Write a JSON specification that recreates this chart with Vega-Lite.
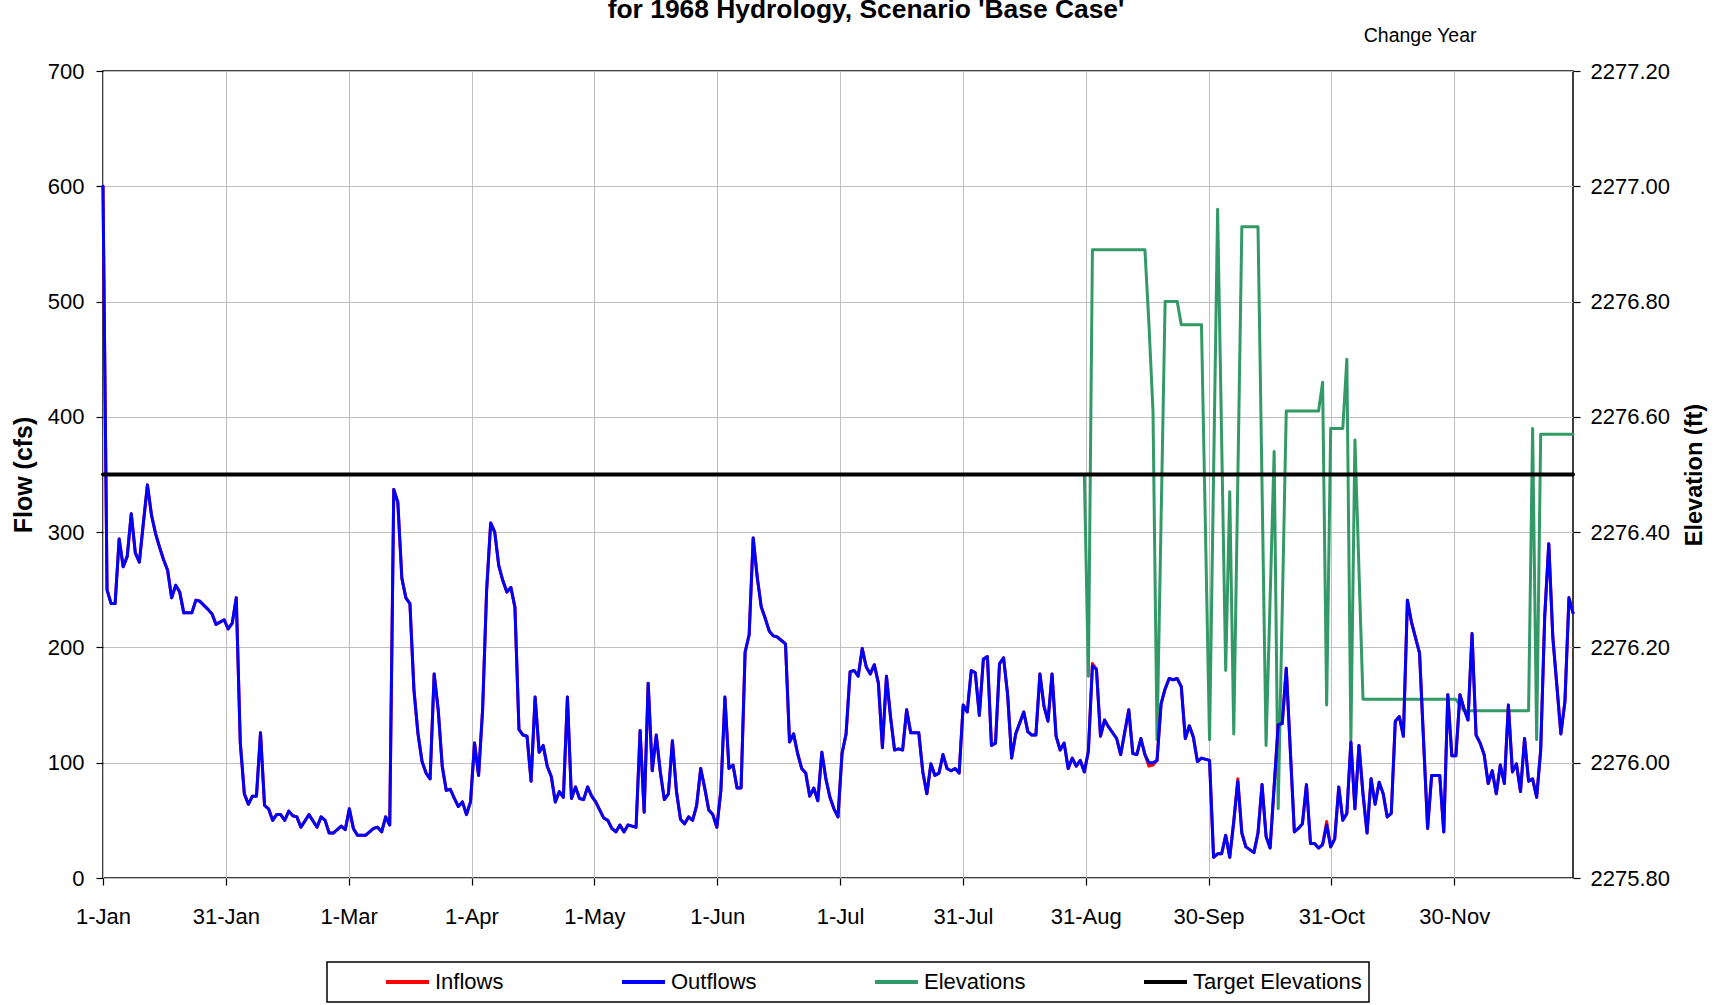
{
  "$schema": "https://vega.github.io/schema/vega-lite/v6.json",
  "width": 1470,
  "height": 807,
  "autosize": {"type": "none"},
  "padding": {"left": 103, "top": 71, "right": 141, "bottom": 127},
  "background": "#ffffff",
  "title": {
    "text": "for 1968 Hydrology, Scenario 'Base Case'",
    "font": "Liberation Sans",
    "fontSize": 26.4,
    "fontWeight": "bold",
    "color": "#000000",
    "anchor": "middle",
    "baseline": "alphabetic",
    "offset": -19,
    "dx": 28
  },
  "config": {
    "font": "Liberation Sans",
    "view": {"stroke": "#000000", "strokeWidth": 1.5},
    "axis": {
      "labelFont": "Liberation Sans",
      "labelFontSize": 22,
      "labelColor": "#000000",
      "titleFont": "Liberation Sans",
      "titleColor": "#000000",
      "tickColor": "#000000",
      "tickWidth": 1.2,
      "domain": false,
      "gridColor": "#c0c0c0",
      "gridWidth": 1,
      "gridOpacity": 1
    },
    "legend": {"strokeWidth": 1.5},
    "line": {"strokeJoin": "round", "strokeCap": "round"}
  },
  "datasets": {
    "flows": [
      {"date":"1968-01-01","Inflows":600,"Outflows":600},
      {"date":"1968-01-02","Inflows":250,"Outflows":250},
      {"date":"1968-01-03","Inflows":238,"Outflows":238},
      {"date":"1968-01-04","Inflows":238,"Outflows":238},
      {"date":"1968-01-05","Inflows":294,"Outflows":294},
      {"date":"1968-01-06","Inflows":270,"Outflows":270},
      {"date":"1968-01-07","Inflows":279,"Outflows":279},
      {"date":"1968-01-08","Inflows":316,"Outflows":316},
      {"date":"1968-01-09","Inflows":282,"Outflows":282},
      {"date":"1968-01-10","Inflows":274,"Outflows":274},
      {"date":"1968-01-11","Inflows":308,"Outflows":308},
      {"date":"1968-01-12","Inflows":341,"Outflows":341},
      {"date":"1968-01-13","Inflows":315,"Outflows":315},
      {"date":"1968-01-14","Inflows":299,"Outflows":299},
      {"date":"1968-01-15","Inflows":287,"Outflows":287},
      {"date":"1968-01-16","Inflows":276,"Outflows":276},
      {"date":"1968-01-17","Inflows":267,"Outflows":267},
      {"date":"1968-01-18","Inflows":243,"Outflows":243},
      {"date":"1968-01-19","Inflows":254,"Outflows":254},
      {"date":"1968-01-20","Inflows":248,"Outflows":248},
      {"date":"1968-01-21","Inflows":230,"Outflows":230},
      {"date":"1968-01-22","Inflows":230,"Outflows":230},
      {"date":"1968-01-23","Inflows":230,"Outflows":230},
      {"date":"1968-01-24","Inflows":241,"Outflows":241},
      {"date":"1968-01-25","Inflows":240,"Outflows":240},
      {"date":"1968-01-27","Inflows":233,"Outflows":233},
      {"date":"1968-01-28","Inflows":229,"Outflows":229},
      {"date":"1968-01-29","Inflows":220,"Outflows":220},
      {"date":"1968-01-31","Inflows":224,"Outflows":224},
      {"date":"1968-02-01","Inflows":216,"Outflows":216},
      {"date":"1968-02-02","Inflows":221,"Outflows":221},
      {"date":"1968-02-03","Inflows":243,"Outflows":243},
      {"date":"1968-02-04","Inflows":117,"Outflows":117},
      {"date":"1968-02-05","Inflows":73,"Outflows":73},
      {"date":"1968-02-06","Inflows":64,"Outflows":64},
      {"date":"1968-02-07","Inflows":71,"Outflows":71},
      {"date":"1968-02-08","Inflows":71,"Outflows":71},
      {"date":"1968-02-09","Inflows":126,"Outflows":126},
      {"date":"1968-02-10","Inflows":63,"Outflows":63},
      {"date":"1968-02-11","Inflows":60,"Outflows":60},
      {"date":"1968-02-12","Inflows":50,"Outflows":50},
      {"date":"1968-02-13","Inflows":55,"Outflows":55},
      {"date":"1968-02-14","Inflows":55,"Outflows":55},
      {"date":"1968-02-15","Inflows":50,"Outflows":50},
      {"date":"1968-02-16","Inflows":58,"Outflows":58},
      {"date":"1968-02-17","Inflows":54,"Outflows":54},
      {"date":"1968-02-18","Inflows":53,"Outflows":53},
      {"date":"1968-02-19","Inflows":44,"Outflows":44},
      {"date":"1968-02-21","Inflows":55,"Outflows":55},
      {"date":"1968-02-23","Inflows":44,"Outflows":44},
      {"date":"1968-02-24","Inflows":53,"Outflows":53},
      {"date":"1968-02-25","Inflows":50,"Outflows":50},
      {"date":"1968-02-26","Inflows":39,"Outflows":39},
      {"date":"1968-02-27","Inflows":39,"Outflows":39},
      {"date":"1968-02-29","Inflows":45,"Outflows":45},
      {"date":"1968-03-01","Inflows":42,"Outflows":42},
      {"date":"1968-03-02","Inflows":60,"Outflows":60},
      {"date":"1968-03-03","Inflows":43,"Outflows":43},
      {"date":"1968-03-04","Inflows":37,"Outflows":37},
      {"date":"1968-03-05","Inflows":37,"Outflows":37},
      {"date":"1968-03-06","Inflows":37,"Outflows":37},
      {"date":"1968-03-08","Inflows":43,"Outflows":43},
      {"date":"1968-03-09","Inflows":44,"Outflows":44},
      {"date":"1968-03-10","Inflows":40,"Outflows":40},
      {"date":"1968-03-11","Inflows":53,"Outflows":53},
      {"date":"1968-03-12","Inflows":46,"Outflows":46},
      {"date":"1968-03-13","Inflows":337,"Outflows":337},
      {"date":"1968-03-14","Inflows":326,"Outflows":326},
      {"date":"1968-03-15","Inflows":260,"Outflows":260},
      {"date":"1968-03-16","Inflows":243,"Outflows":243},
      {"date":"1968-03-17","Inflows":238,"Outflows":238},
      {"date":"1968-03-18","Inflows":163,"Outflows":163},
      {"date":"1968-03-19","Inflows":125,"Outflows":125},
      {"date":"1968-03-20","Inflows":101,"Outflows":101},
      {"date":"1968-03-21","Inflows":91,"Outflows":91},
      {"date":"1968-03-22","Inflows":86,"Outflows":86},
      {"date":"1968-03-23","Inflows":177,"Outflows":177},
      {"date":"1968-03-24","Inflows":146,"Outflows":146},
      {"date":"1968-03-25","Inflows":97,"Outflows":97},
      {"date":"1968-03-26","Inflows":76,"Outflows":76},
      {"date":"1968-03-27","Inflows":77,"Outflows":77},
      {"date":"1968-03-28","Inflows":69,"Outflows":69},
      {"date":"1968-03-29","Inflows":62,"Outflows":62},
      {"date":"1968-03-30","Inflows":66,"Outflows":66},
      {"date":"1968-03-31","Inflows":55,"Outflows":55},
      {"date":"1968-04-01","Inflows":66,"Outflows":66},
      {"date":"1968-04-02","Inflows":117,"Outflows":117},
      {"date":"1968-04-03","Inflows":89,"Outflows":89},
      {"date":"1968-04-04","Inflows":146,"Outflows":146},
      {"date":"1968-04-05","Inflows":250,"Outflows":250},
      {"date":"1968-04-06","Inflows":308,"Outflows":308},
      {"date":"1968-04-07","Inflows":300,"Outflows":300},
      {"date":"1968-04-08","Inflows":271,"Outflows":271},
      {"date":"1968-04-09","Inflows":258,"Outflows":258},
      {"date":"1968-04-10","Inflows":248,"Outflows":248},
      {"date":"1968-04-11","Inflows":252,"Outflows":252},
      {"date":"1968-04-12","Inflows":235,"Outflows":235},
      {"date":"1968-04-13","Inflows":129,"Outflows":129},
      {"date":"1968-04-14","Inflows":124,"Outflows":124},
      {"date":"1968-04-15","Inflows":123,"Outflows":123},
      {"date":"1968-04-16","Inflows":84,"Outflows":84},
      {"date":"1968-04-17","Inflows":157,"Outflows":157},
      {"date":"1968-04-18","Inflows":109,"Outflows":109},
      {"date":"1968-04-19","Inflows":115,"Outflows":115},
      {"date":"1968-04-20","Inflows":97,"Outflows":97},
      {"date":"1968-04-21","Inflows":88,"Outflows":88},
      {"date":"1968-04-22","Inflows":66,"Outflows":66},
      {"date":"1968-04-23","Inflows":75,"Outflows":75},
      {"date":"1968-04-24","Inflows":70,"Outflows":70},
      {"date":"1968-04-25","Inflows":157,"Outflows":157},
      {"date":"1968-04-26","Inflows":69,"Outflows":69},
      {"date":"1968-04-27","Inflows":79,"Outflows":79},
      {"date":"1968-04-28","Inflows":69,"Outflows":69},
      {"date":"1968-04-29","Inflows":68,"Outflows":68},
      {"date":"1968-04-30","Inflows":79,"Outflows":79},
      {"date":"1968-05-01","Inflows":71,"Outflows":71},
      {"date":"1968-05-02","Inflows":66,"Outflows":66},
      {"date":"1968-05-04","Inflows":52,"Outflows":52},
      {"date":"1968-05-05","Inflows":50,"Outflows":50},
      {"date":"1968-05-06","Inflows":43,"Outflows":43},
      {"date":"1968-05-07","Inflows":40,"Outflows":40},
      {"date":"1968-05-08","Inflows":46,"Outflows":46},
      {"date":"1968-05-09","Inflows":40,"Outflows":40},
      {"date":"1968-05-10","Inflows":46,"Outflows":46},
      {"date":"1968-05-11","Inflows":45,"Outflows":45},
      {"date":"1968-05-12","Inflows":44,"Outflows":44},
      {"date":"1968-05-13","Inflows":128,"Outflows":128},
      {"date":"1968-05-14","Inflows":57,"Outflows":57},
      {"date":"1968-05-15","Inflows":169,"Outflows":169},
      {"date":"1968-05-16","Inflows":93,"Outflows":93},
      {"date":"1968-05-17","Inflows":124,"Outflows":124},
      {"date":"1968-05-18","Inflows":92,"Outflows":92},
      {"date":"1968-05-19","Inflows":68,"Outflows":68},
      {"date":"1968-05-20","Inflows":73,"Outflows":73},
      {"date":"1968-05-21","Inflows":119,"Outflows":119},
      {"date":"1968-05-22","Inflows":75,"Outflows":75},
      {"date":"1968-05-23","Inflows":51,"Outflows":51},
      {"date":"1968-05-24","Inflows":47,"Outflows":47},
      {"date":"1968-05-25","Inflows":53,"Outflows":53},
      {"date":"1968-05-26","Inflows":50,"Outflows":50},
      {"date":"1968-05-27","Inflows":63,"Outflows":63},
      {"date":"1968-05-28","Inflows":95,"Outflows":95},
      {"date":"1968-05-29","Inflows":78,"Outflows":78},
      {"date":"1968-05-30","Inflows":59,"Outflows":59},
      {"date":"1968-05-31","Inflows":55,"Outflows":55},
      {"date":"1968-06-01","Inflows":44,"Outflows":44},
      {"date":"1968-06-02","Inflows":76,"Outflows":76},
      {"date":"1968-06-03","Inflows":157,"Outflows":157},
      {"date":"1968-06-04","Inflows":95,"Outflows":95},
      {"date":"1968-06-05","Inflows":98,"Outflows":98},
      {"date":"1968-06-06","Inflows":78,"Outflows":78},
      {"date":"1968-06-07","Inflows":78,"Outflows":78},
      {"date":"1968-06-08","Inflows":196,"Outflows":196},
      {"date":"1968-06-09","Inflows":211,"Outflows":211},
      {"date":"1968-06-10","Inflows":295,"Outflows":295},
      {"date":"1968-06-11","Inflows":261,"Outflows":261},
      {"date":"1968-06-12","Inflows":235,"Outflows":235},
      {"date":"1968-06-13","Inflows":225,"Outflows":225},
      {"date":"1968-06-14","Inflows":214,"Outflows":214},
      {"date":"1968-06-15","Inflows":210,"Outflows":210},
      {"date":"1968-06-16","Inflows":209,"Outflows":209},
      {"date":"1968-06-17","Inflows":206,"Outflows":206},
      {"date":"1968-06-18","Inflows":203,"Outflows":203},
      {"date":"1968-06-19","Inflows":118,"Outflows":118},
      {"date":"1968-06-20","Inflows":125,"Outflows":125},
      {"date":"1968-06-21","Inflows":108,"Outflows":108},
      {"date":"1968-06-22","Inflows":95,"Outflows":95},
      {"date":"1968-06-23","Inflows":91,"Outflows":91},
      {"date":"1968-06-24","Inflows":71,"Outflows":71},
      {"date":"1968-06-25","Inflows":78,"Outflows":78},
      {"date":"1968-06-26","Inflows":67,"Outflows":67},
      {"date":"1968-06-27","Inflows":109,"Outflows":109},
      {"date":"1968-06-28","Inflows":86,"Outflows":86},
      {"date":"1968-06-29","Inflows":70,"Outflows":70},
      {"date":"1968-06-30","Inflows":60,"Outflows":60},
      {"date":"1968-07-01","Inflows":53,"Outflows":53},
      {"date":"1968-07-02","Inflows":108,"Outflows":108},
      {"date":"1968-07-03","Inflows":125,"Outflows":125},
      {"date":"1968-07-04","Inflows":179,"Outflows":179},
      {"date":"1968-07-05","Inflows":180,"Outflows":180},
      {"date":"1968-07-06","Inflows":175,"Outflows":175},
      {"date":"1968-07-07","Inflows":199,"Outflows":199},
      {"date":"1968-07-08","Inflows":183,"Outflows":183},
      {"date":"1968-07-09","Inflows":177,"Outflows":177},
      {"date":"1968-07-10","Inflows":185,"Outflows":185},
      {"date":"1968-07-11","Inflows":169,"Outflows":169},
      {"date":"1968-07-12","Inflows":113,"Outflows":113},
      {"date":"1968-07-13","Inflows":175,"Outflows":175},
      {"date":"1968-07-14","Inflows":140,"Outflows":140},
      {"date":"1968-07-15","Inflows":111,"Outflows":111},
      {"date":"1968-07-16","Inflows":112,"Outflows":112},
      {"date":"1968-07-17","Inflows":111,"Outflows":111},
      {"date":"1968-07-18","Inflows":146,"Outflows":146},
      {"date":"1968-07-19","Inflows":126,"Outflows":126},
      {"date":"1968-07-20","Inflows":126,"Outflows":126},
      {"date":"1968-07-21","Inflows":126,"Outflows":126},
      {"date":"1968-07-22","Inflows":92,"Outflows":92},
      {"date":"1968-07-23","Inflows":73,"Outflows":73},
      {"date":"1968-07-24","Inflows":99,"Outflows":99},
      {"date":"1968-07-25","Inflows":89,"Outflows":89},
      {"date":"1968-07-26","Inflows":91,"Outflows":91},
      {"date":"1968-07-27","Inflows":107,"Outflows":107},
      {"date":"1968-07-28","Inflows":95,"Outflows":95},
      {"date":"1968-07-29","Inflows":93,"Outflows":93},
      {"date":"1968-07-30","Inflows":95,"Outflows":95},
      {"date":"1968-07-31","Inflows":91,"Outflows":91},
      {"date":"1968-08-01","Inflows":150,"Outflows":150},
      {"date":"1968-08-02","Inflows":144,"Outflows":144},
      {"date":"1968-08-03","Inflows":180,"Outflows":180},
      {"date":"1968-08-04","Inflows":178,"Outflows":178},
      {"date":"1968-08-05","Inflows":141,"Outflows":141},
      {"date":"1968-08-06","Inflows":190,"Outflows":190},
      {"date":"1968-08-07","Inflows":192,"Outflows":192},
      {"date":"1968-08-08","Inflows":115,"Outflows":115},
      {"date":"1968-08-09","Inflows":117,"Outflows":117},
      {"date":"1968-08-10","Inflows":186,"Outflows":186},
      {"date":"1968-08-11","Inflows":191,"Outflows":191},
      {"date":"1968-08-12","Inflows":159,"Outflows":159},
      {"date":"1968-08-13","Inflows":104,"Outflows":104},
      {"date":"1968-08-14","Inflows":125,"Outflows":125},
      {"date":"1968-08-16","Inflows":144,"Outflows":144},
      {"date":"1968-08-17","Inflows":127,"Outflows":127},
      {"date":"1968-08-18","Inflows":124,"Outflows":124},
      {"date":"1968-08-19","Inflows":124,"Outflows":124},
      {"date":"1968-08-20","Inflows":177,"Outflows":177},
      {"date":"1968-08-21","Inflows":149,"Outflows":149},
      {"date":"1968-08-22","Inflows":136,"Outflows":136},
      {"date":"1968-08-23","Inflows":177,"Outflows":177},
      {"date":"1968-08-24","Inflows":123,"Outflows":123},
      {"date":"1968-08-25","Inflows":111,"Outflows":111},
      {"date":"1968-08-26","Inflows":117,"Outflows":117},
      {"date":"1968-08-27","Inflows":95,"Outflows":95},
      {"date":"1968-08-28","Inflows":104,"Outflows":104},
      {"date":"1968-08-29","Inflows":97,"Outflows":97},
      {"date":"1968-08-30","Inflows":102,"Outflows":102},
      {"date":"1968-08-31","Inflows":92,"Outflows":92},
      {"date":"1968-09-01","Inflows":110,"Outflows":110},
      {"date":"1968-09-02","Inflows":186,"Outflows":184},
      {"date":"1968-09-03","Inflows":181,"Outflows":181},
      {"date":"1968-09-04","Inflows":123,"Outflows":123},
      {"date":"1968-09-05","Inflows":137,"Outflows":137},
      {"date":"1968-09-06","Inflows":131,"Outflows":131},
      {"date":"1968-09-08","Inflows":121,"Outflows":121},
      {"date":"1968-09-09","Inflows":107,"Outflows":107},
      {"date":"1968-09-11","Inflows":146,"Outflows":146},
      {"date":"1968-09-12","Inflows":108,"Outflows":108},
      {"date":"1968-09-13","Inflows":107,"Outflows":107},
      {"date":"1968-09-14","Inflows":121,"Outflows":121},
      {"date":"1968-09-15","Inflows":107,"Outflows":107},
      {"date":"1968-09-16","Inflows":97,"Outflows":100},
      {"date":"1968-09-17","Inflows":98,"Outflows":100},
      {"date":"1968-09-18","Inflows":102,"Outflows":102},
      {"date":"1968-09-19","Inflows":151,"Outflows":151},
      {"date":"1968-09-20","Inflows":164,"Outflows":164},
      {"date":"1968-09-21","Inflows":173,"Outflows":173},
      {"date":"1968-09-22","Inflows":172,"Outflows":172},
      {"date":"1968-09-23","Inflows":173,"Outflows":173},
      {"date":"1968-09-24","Inflows":166,"Outflows":166},
      {"date":"1968-09-25","Inflows":121,"Outflows":121},
      {"date":"1968-09-26","Inflows":132,"Outflows":132},
      {"date":"1968-09-27","Inflows":122,"Outflows":122},
      {"date":"1968-09-28","Inflows":101,"Outflows":101},
      {"date":"1968-09-29","Inflows":104,"Outflows":104},
      {"date":"1968-10-01","Inflows":102,"Outflows":102},
      {"date":"1968-10-02","Inflows":18,"Outflows":18},
      {"date":"1968-10-03","Inflows":21,"Outflows":21},
      {"date":"1968-10-04","Inflows":21,"Outflows":21},
      {"date":"1968-10-05","Inflows":37,"Outflows":37},
      {"date":"1968-10-06","Inflows":18,"Outflows":18},
      {"date":"1968-10-07","Inflows":49,"Outflows":49},
      {"date":"1968-10-08","Inflows":86,"Outflows":84},
      {"date":"1968-10-09","Inflows":39,"Outflows":39},
      {"date":"1968-10-10","Inflows":27,"Outflows":27},
      {"date":"1968-10-12","Inflows":22,"Outflows":22},
      {"date":"1968-10-13","Inflows":39,"Outflows":39},
      {"date":"1968-10-14","Inflows":81,"Outflows":81},
      {"date":"1968-10-15","Inflows":36,"Outflows":36},
      {"date":"1968-10-16","Inflows":26,"Outflows":26},
      {"date":"1968-10-18","Inflows":133,"Outflows":133},
      {"date":"1968-10-19","Inflows":134,"Outflows":134},
      {"date":"1968-10-20","Inflows":182,"Outflows":182},
      {"date":"1968-10-22","Inflows":40,"Outflows":40},
      {"date":"1968-10-23","Inflows":43,"Outflows":43},
      {"date":"1968-10-24","Inflows":47,"Outflows":47},
      {"date":"1968-10-25","Inflows":81,"Outflows":81},
      {"date":"1968-10-26","Inflows":30,"Outflows":30},
      {"date":"1968-10-27","Inflows":30,"Outflows":30},
      {"date":"1968-10-28","Inflows":26,"Outflows":26},
      {"date":"1968-10-29","Inflows":29,"Outflows":29},
      {"date":"1968-10-30","Inflows":49,"Outflows":46},
      {"date":"1968-10-31","Inflows":27,"Outflows":27},
      {"date":"1968-11-01","Inflows":34,"Outflows":34},
      {"date":"1968-11-02","Inflows":79,"Outflows":79},
      {"date":"1968-11-03","Inflows":50,"Outflows":50},
      {"date":"1968-11-04","Inflows":56,"Outflows":56},
      {"date":"1968-11-05","Inflows":118,"Outflows":118},
      {"date":"1968-11-06","Inflows":60,"Outflows":60},
      {"date":"1968-11-07","Inflows":115,"Outflows":115},
      {"date":"1968-11-08","Inflows":73,"Outflows":73},
      {"date":"1968-11-09","Inflows":39,"Outflows":39},
      {"date":"1968-11-10","Inflows":86,"Outflows":86},
      {"date":"1968-11-11","Inflows":64,"Outflows":64},
      {"date":"1968-11-12","Inflows":83,"Outflows":83},
      {"date":"1968-11-13","Inflows":73,"Outflows":73},
      {"date":"1968-11-14","Inflows":53,"Outflows":53},
      {"date":"1968-11-15","Inflows":56,"Outflows":56},
      {"date":"1968-11-16","Inflows":136,"Outflows":136},
      {"date":"1968-11-17","Inflows":140,"Outflows":140},
      {"date":"1968-11-18","Inflows":123,"Outflows":123},
      {"date":"1968-11-19","Inflows":241,"Outflows":241},
      {"date":"1968-11-20","Inflows":222,"Outflows":222},
      {"date":"1968-11-22","Inflows":195,"Outflows":195},
      {"date":"1968-11-24","Inflows":43,"Outflows":43},
      {"date":"1968-11-25","Inflows":89,"Outflows":89},
      {"date":"1968-11-26","Inflows":89,"Outflows":89},
      {"date":"1968-11-27","Inflows":89,"Outflows":89},
      {"date":"1968-11-28","Inflows":40,"Outflows":40},
      {"date":"1968-11-29","Inflows":159,"Outflows":159},
      {"date":"1968-11-30","Inflows":106,"Outflows":106},
      {"date":"1968-12-01","Inflows":106,"Outflows":106},
      {"date":"1968-12-02","Inflows":159,"Outflows":159},
      {"date":"1968-12-03","Inflows":147,"Outflows":147},
      {"date":"1968-12-04","Inflows":137,"Outflows":137},
      {"date":"1968-12-05","Inflows":212,"Outflows":212},
      {"date":"1968-12-06","Inflows":124,"Outflows":124},
      {"date":"1968-12-07","Inflows":117,"Outflows":117},
      {"date":"1968-12-08","Inflows":107,"Outflows":107},
      {"date":"1968-12-09","Inflows":82,"Outflows":82},
      {"date":"1968-12-10","Inflows":93,"Outflows":93},
      {"date":"1968-12-11","Inflows":73,"Outflows":73},
      {"date":"1968-12-12","Inflows":98,"Outflows":98},
      {"date":"1968-12-13","Inflows":82,"Outflows":82},
      {"date":"1968-12-14","Inflows":150,"Outflows":150},
      {"date":"1968-12-15","Inflows":92,"Outflows":92},
      {"date":"1968-12-16","Inflows":99,"Outflows":99},
      {"date":"1968-12-17","Inflows":75,"Outflows":75},
      {"date":"1968-12-18","Inflows":121,"Outflows":121},
      {"date":"1968-12-19","Inflows":84,"Outflows":84},
      {"date":"1968-12-20","Inflows":86,"Outflows":86},
      {"date":"1968-12-21","Inflows":70,"Outflows":70},
      {"date":"1968-12-22","Inflows":111,"Outflows":111},
      {"date":"1968-12-23","Inflows":227,"Outflows":227},
      {"date":"1968-12-24","Inflows":290,"Outflows":290},
      {"date":"1968-12-25","Inflows":209,"Outflows":209},
      {"date":"1968-12-27","Inflows":125,"Outflows":125},
      {"date":"1968-12-28","Inflows":153,"Outflows":153},
      {"date":"1968-12-29","Inflows":243,"Outflows":243},
      {"date":"1968-12-30","Inflows":230,"Outflows":230}
    ],
    "elev": [
      {"date":"1968-08-31","elevation":2276.50},
      {"date":"1968-09-01","elevation":2276.15},
      {"date":"1968-09-02","elevation":2276.89},
      {"date":"1968-09-03","elevation":2276.89},
      {"date":"1968-09-04","elevation":2276.89},
      {"date":"1968-09-05","elevation":2276.89},
      {"date":"1968-09-06","elevation":2276.89},
      {"date":"1968-09-07","elevation":2276.89},
      {"date":"1968-09-08","elevation":2276.89},
      {"date":"1968-09-09","elevation":2276.89},
      {"date":"1968-09-10","elevation":2276.89},
      {"date":"1968-09-11","elevation":2276.89},
      {"date":"1968-09-12","elevation":2276.89},
      {"date":"1968-09-13","elevation":2276.89},
      {"date":"1968-09-14","elevation":2276.89},
      {"date":"1968-09-15","elevation":2276.89},
      {"date":"1968-09-16","elevation":2276.76},
      {"date":"1968-09-17","elevation":2276.61},
      {"date":"1968-09-18","elevation":2276.04},
      {"date":"1968-09-20","elevation":2276.80},
      {"date":"1968-09-21","elevation":2276.80},
      {"date":"1968-09-22","elevation":2276.80},
      {"date":"1968-09-23","elevation":2276.80},
      {"date":"1968-09-24","elevation":2276.76},
      {"date":"1968-09-25","elevation":2276.76},
      {"date":"1968-09-26","elevation":2276.76},
      {"date":"1968-09-27","elevation":2276.76},
      {"date":"1968-09-28","elevation":2276.76},
      {"date":"1968-09-29","elevation":2276.76},
      {"date":"1968-10-01","elevation":2276.04},
      {"date":"1968-10-03","elevation":2276.96},
      {"date":"1968-10-05","elevation":2276.16},
      {"date":"1968-10-06","elevation":2276.47},
      {"date":"1968-10-07","elevation":2276.05},
      {"date":"1968-10-09","elevation":2276.93},
      {"date":"1968-10-10","elevation":2276.93},
      {"date":"1968-10-11","elevation":2276.93},
      {"date":"1968-10-12","elevation":2276.93},
      {"date":"1968-10-13","elevation":2276.93},
      {"date":"1968-10-15","elevation":2276.03},
      {"date":"1968-10-17","elevation":2276.54},
      {"date":"1968-10-18","elevation":2275.92},
      {"date":"1968-10-20","elevation":2276.61},
      {"date":"1968-10-21","elevation":2276.61},
      {"date":"1968-10-22","elevation":2276.61},
      {"date":"1968-10-23","elevation":2276.61},
      {"date":"1968-10-24","elevation":2276.61},
      {"date":"1968-10-25","elevation":2276.61},
      {"date":"1968-10-26","elevation":2276.61},
      {"date":"1968-10-27","elevation":2276.61},
      {"date":"1968-10-28","elevation":2276.61},
      {"date":"1968-10-29","elevation":2276.66},
      {"date":"1968-10-30","elevation":2276.10},
      {"date":"1968-10-31","elevation":2276.58},
      {"date":"1968-11-01","elevation":2276.58},
      {"date":"1968-11-02","elevation":2276.58},
      {"date":"1968-11-03","elevation":2276.58},
      {"date":"1968-11-04","elevation":2276.70},
      {"date":"1968-11-05","elevation":2276.04},
      {"date":"1968-11-06","elevation":2276.56},
      {"date":"1968-11-08","elevation":2276.11},
      {"date":"1968-11-09","elevation":2276.11},
      {"date":"1968-11-10","elevation":2276.11},
      {"date":"1968-11-11","elevation":2276.11},
      {"date":"1968-11-12","elevation":2276.11},
      {"date":"1968-11-13","elevation":2276.11},
      {"date":"1968-11-14","elevation":2276.11},
      {"date":"1968-11-15","elevation":2276.11},
      {"date":"1968-11-16","elevation":2276.11},
      {"date":"1968-11-17","elevation":2276.11},
      {"date":"1968-11-18","elevation":2276.11},
      {"date":"1968-11-19","elevation":2276.11},
      {"date":"1968-11-20","elevation":2276.11},
      {"date":"1968-11-21","elevation":2276.11},
      {"date":"1968-11-22","elevation":2276.11},
      {"date":"1968-11-23","elevation":2276.11},
      {"date":"1968-11-24","elevation":2276.11},
      {"date":"1968-11-25","elevation":2276.11},
      {"date":"1968-11-26","elevation":2276.11},
      {"date":"1968-11-27","elevation":2276.11},
      {"date":"1968-11-28","elevation":2276.11},
      {"date":"1968-11-29","elevation":2276.11},
      {"date":"1968-11-30","elevation":2276.11},
      {"date":"1968-12-01","elevation":2276.11},
      {"date":"1968-12-03","elevation":2276.09},
      {"date":"1968-12-04","elevation":2276.09},
      {"date":"1968-12-05","elevation":2276.09},
      {"date":"1968-12-06","elevation":2276.09},
      {"date":"1968-12-07","elevation":2276.09},
      {"date":"1968-12-08","elevation":2276.09},
      {"date":"1968-12-09","elevation":2276.09},
      {"date":"1968-12-10","elevation":2276.09},
      {"date":"1968-12-11","elevation":2276.09},
      {"date":"1968-12-12","elevation":2276.09},
      {"date":"1968-12-13","elevation":2276.09},
      {"date":"1968-12-14","elevation":2276.09},
      {"date":"1968-12-15","elevation":2276.09},
      {"date":"1968-12-16","elevation":2276.09},
      {"date":"1968-12-17","elevation":2276.09},
      {"date":"1968-12-18","elevation":2276.09},
      {"date":"1968-12-19","elevation":2276.09},
      {"date":"1968-12-20","elevation":2276.58},
      {"date":"1968-12-21","elevation":2276.04},
      {"date":"1968-12-22","elevation":2276.57},
      {"date":"1968-12-23","elevation":2276.57},
      {"date":"1968-12-24","elevation":2276.57},
      {"date":"1968-12-25","elevation":2276.57},
      {"date":"1968-12-26","elevation":2276.57},
      {"date":"1968-12-27","elevation":2276.57},
      {"date":"1968-12-28","elevation":2276.57},
      {"date":"1968-12-29","elevation":2276.57},
      {"date":"1968-12-30","elevation":2276.57}
    ],
    "target": [
      {"date":"1968-01-01","elevation":2276.50},
      {"date":"1968-12-30","elevation":2276.50}
    ]
  },
  "layer": [
    {
      "data": {"name": "elev"},
      "mark": {"type": "line", "strokeWidth": 3},
      "encoding": {
        "x": {
          "field": "date", "type": "temporal",
          "scale": {"type": "utc", "domain": [{"year": 1968, "month": 1, "date": 1, "utc": true}, {"year": 1968, "month": 12, "date": 30, "utc": true}]},
          "axis": {"orient": "top", "title": "Change Year", "labels": false, "ticks": false, "domain": false, "grid": false,
                   "titleX": 1373, "titleY": -36, "titleAlign": "right", "titleBaseline": "middle", "titleAngle": 0,
                   "titleFontSize": 19.5, "titleFontWeight": "normal"}
        },
        "y": {
          "field": "elevation", "type": "quantitative",
          "scale": {"domain": [2275.8, 2277.2], "nice": false, "zero": false},
          "axis": {"orient": "right", "values": [2275.8, 2276.0, 2276.2, 2276.4, 2276.6, 2276.8, 2277.0, 2277.2], "format": ".2f",
                   "title": "Elevation (ft)", "titleAngle": 270, "titleBaseline": "top", "titleFontSize": 23.5, "titleFontWeight": "bold",
                   "titlePadding": 13, "grid": false, "tickSize": 7, "labelPadding": 10}
        },
        "color": {"datum": "Elevations"}
      }
    },
    {
      "data": {"name": "flows"},
      "encoding": {
        "x": {
          "field": "date", "type": "temporal",
          "scale": {"type": "utc", "domain": [{"year": 1968, "month": 1, "date": 1, "utc": true}, {"year": 1968, "month": 12, "date": 30, "utc": true}]},
          "axis": {
            "orient": "bottom", "title": null, "format": "%-d-%b", "grid": true, "tickSize": 7, "labelPadding": 21,
            "labelFlush": false, "labelOverlap": false,
            "values": [
              {"year": 1968, "month": 1, "date": 1, "utc": true},
              {"year": 1968, "month": 1, "date": 31, "hours": 10, "utc": true},
              {"year": 1968, "month": 3, "date": 1, "hours": 20, "utc": true},
              {"year": 1968, "month": 4, "date": 1, "hours": 6, "utc": true},
              {"year": 1968, "month": 5, "date": 1, "hours": 16, "utc": true},
              {"year": 1968, "month": 6, "date": 1, "hours": 2, "utc": true},
              {"year": 1968, "month": 7, "date": 1, "hours": 12, "utc": true},
              {"year": 1968, "month": 7, "date": 31, "hours": 22, "utc": true},
              {"year": 1968, "month": 8, "date": 31, "hours": 8, "utc": true},
              {"year": 1968, "month": 9, "date": 30, "hours": 18, "utc": true},
              {"year": 1968, "month": 10, "date": 31, "hours": 4, "utc": true},
              {"year": 1968, "month": 11, "date": 30, "hours": 14, "utc": true}
            ]
          }
        }
      },
      "layer": [
        {
          "mark": {"type": "line", "strokeWidth": 3},
          "encoding": {
            "y": {
              "field": "Inflows", "type": "quantitative",
              "scale": {"domain": [0, 700], "nice": false},
              "axis": {"orient": "left", "values": [0, 100, 200, 300, 400, 500, 600, 700], "title": "Flow (cfs)",
                       "titleFontSize": 25, "titleFontWeight": "bold", "titlePadding": 11, "grid": true, "tickSize": 7, "labelPadding": 12}
            },
            "color": {
              "datum": "Inflows",
              "scale": {"domain": ["Inflows", "Outflows", "Elevations", "Target Elevations"], "range": ["#ff0000", "#0000ff", "#339966", "#000000"]},
              "legend": {
                "orient": "none", "legendX": 224, "legendY": 891, "direction": "horizontal", "title": null,
                "symbolType": "stroke", "symbolSize": 1849, "symbolStrokeWidth": 4, "symbolOffset": 50, "clipHeight": 26,
                "labelFont": "Liberation Sans", "labelFontSize": 22, "labelColor": "#000000", "labelOffset": 4, "labelLimit": 400,
                "columnPadding": 66, "padding": 7, "strokeColor": "#000000", "fillColor": "#ffffff"
              }
            }
          }
        },
        {
          "mark": {"type": "line", "strokeWidth": 3},
          "encoding": {
            "y": {
              "field": "Outflows", "type": "quantitative",
              "scale": {"domain": [0, 700], "nice": false},
              "axis": {"orient": "left", "values": [0, 100, 200, 300, 400, 500, 600, 700], "title": "Flow (cfs)",
                       "titleFontSize": 25, "titleFontWeight": "bold", "titlePadding": 11, "grid": true, "tickSize": 7, "labelPadding": 12}
            },
            "color": {"datum": "Outflows"}
          }
        }
      ]
    },
    {
      "data": {"name": "target"},
      "mark": {"type": "line", "strokeWidth": 4},
      "encoding": {
        "x": {
          "field": "date", "type": "temporal",
          "scale": {"type": "utc", "domain": [{"year": 1968, "month": 1, "date": 1, "utc": true}, {"year": 1968, "month": 12, "date": 30, "utc": true}]},
          "axis": null
        },
        "y": {
          "field": "elevation", "type": "quantitative",
          "scale": {"domain": [2275.8, 2277.2], "nice": false, "zero": false},
          "axis": null
        },
        "color": {"datum": "Target Elevations"}
      }
    }
  ],
  "resolve": {"scale": {"y": "independent"}, "axis": {"x": "independent", "y": "independent"}}
}
